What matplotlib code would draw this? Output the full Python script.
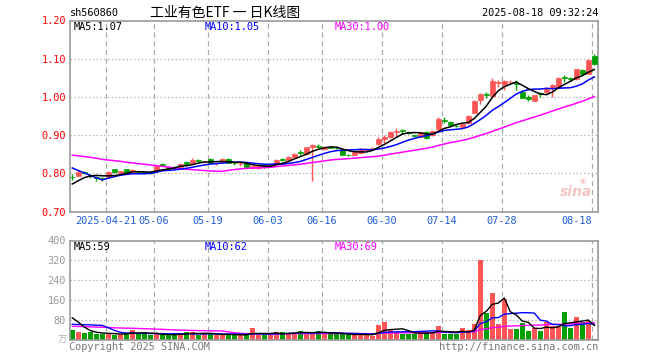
import numpy as np
import pandas as pd
import matplotlib
matplotlib.use("Agg")
import matplotlib.pyplot as plt

# ---- data (daily K, 88 sessions 04-11 .. 08-18) ----
opens = [0.791, 0.794, 0.803, 0.796, 0.789, 0.788, 0.790, 0.810, 0.800, 0.810,
         0.802, 0.804, 0.803, 0.802, 0.807, 0.823, 0.816, 0.816, 0.817, 0.829,
         0.826, 0.836, 0.829, 0.838, 0.826, 0.829, 0.838, 0.827, 0.824, 0.826,
         0.814, 0.814, 0.822, 0.818, 0.824, 0.837, 0.836, 0.842, 0.855, 0.850,
         0.868, 0.870, 0.864, 0.868, 0.866, 0.862, 0.849, 0.849, 0.854, 0.860,
         0.866, 0.876, 0.890, 0.895, 0.908, 0.913, 0.909, 0.899, 0.896, 0.909,
         0.899, 0.916, 0.939, 0.935, 0.925, 0.922, 0.931, 0.959, 0.992, 1.007,
         1.002, 1.037, 1.031, 1.039, 1.036, 1.013, 1.000, 0.990, 1.010, 1.012,
         1.025, 1.025, 1.051, 1.049, 1.046, 1.070, 1.061, 1.106]
highs = [0.798, 0.808, 0.806, 0.799, 0.792, 0.790, 0.806, 0.812, 0.807, 0.811,
         0.812, 0.806, 0.804, 0.803, 0.820, 0.827, 0.818, 0.818, 0.827, 0.831,
         0.839, 0.838, 0.833, 0.840, 0.830, 0.840, 0.839, 0.829, 0.831, 0.828,
         0.820, 0.819, 0.824, 0.826, 0.838, 0.841, 0.845, 0.854, 0.860, 0.870,
         0.876, 0.876, 0.872, 0.870, 0.868, 0.863, 0.851, 0.857, 0.866, 0.866,
         0.870, 0.895, 0.899, 0.911, 0.918, 0.917, 0.911, 0.901, 0.909, 0.911,
         0.913, 0.948, 0.948, 0.937, 0.928, 0.931, 0.952, 0.993, 1.010, 1.013,
         1.050, 1.044, 1.045, 1.044, 1.044, 1.018, 1.005, 1.006, 1.013, 1.026,
         1.034, 1.052, 1.057, 1.052, 1.074, 1.073, 1.099, 1.112]
lows = [0.783, 0.792, 0.797, 0.788, 0.780, 0.779, 0.788, 0.801, 0.798, 0.800,
        0.800, 0.801, 0.799, 0.798, 0.806, 0.818, 0.811, 0.813, 0.816, 0.822,
        0.825, 0.830, 0.826, 0.825, 0.823, 0.828, 0.826, 0.823, 0.818, 0.814,
        0.812, 0.812, 0.814, 0.816, 0.822, 0.832, 0.834, 0.840, 0.848, 0.848,
        0.779, 0.865, 0.862, 0.865, 0.863, 0.847, 0.845, 0.847, 0.852, 0.858,
        0.861, 0.875, 0.880, 0.893, 0.896, 0.903, 0.903, 0.895, 0.894, 0.889,
        0.897, 0.914, 0.931, 0.925, 0.920, 0.919, 0.929, 0.957, 0.981, 0.998,
        1.000, 1.025, 1.018, 1.035, 1.018, 0.996, 0.989, 0.988, 1.000, 1.010,
        1.000, 1.022, 1.040, 1.042, 1.044, 1.057, 1.059, 1.083]
closes = [0.790, 0.803, 0.800, 0.792, 0.788, 0.784, 0.803, 0.803, 0.805, 0.802,
          0.808, 0.803, 0.801, 0.801, 0.818, 0.822, 0.813, 0.815, 0.825, 0.824,
          0.836, 0.833, 0.830, 0.827, 0.827, 0.838, 0.827, 0.826, 0.825, 0.816,
          0.818, 0.818, 0.816, 0.824, 0.836, 0.836, 0.842, 0.850, 0.854, 0.868,
          0.873, 0.869, 0.869, 0.867, 0.865, 0.848, 0.848, 0.855, 0.864, 0.864,
          0.867, 0.889, 0.894, 0.909, 0.910, 0.911, 0.905, 0.898, 0.907, 0.892,
          0.911, 0.941, 0.937, 0.927, 0.923, 0.928, 0.950, 0.990, 1.007, 1.005,
          1.041, 1.038, 1.042, 1.040, 1.034, 0.998, 0.994, 1.005, 1.008, 1.024,
          1.032, 1.050, 1.049, 1.047, 1.072, 1.059, 1.096, 1.085]
volumes = [41, 31, 27, 33, 25, 25, 25, 20, 25, 28, 41, 25, 25, 19, 25, 21, 21, 21,
           25, 33, 33, 19, 25, 25, 21, 21, 21, 21, 21, 21, 47, 21, 21, 21, 31, 31,
           28, 28, 35, 28, 28, 35, 28, 23, 23, 23, 19, 23, 23, 23, 17, 59, 71, 39,
           31, 25, 25, 25, 31, 31, 31, 55, 25, 23, 25, 47, 39, 63, 320, 108, 188,
           63, 165, 43, 43, 67, 36, 49, 35, 71, 55, 55, 114, 49, 91, 71, 76, 6]

# sessions before the window, only needed so the moving averages start right
pre_close = [0.85, 0.86, 0.85, 0.86, 0.87, 0.86, 0.85, 0.86, 0.87, 0.86,
             0.86, 0.85, 0.86, 0.87, 0.88, 0.87, 0.88, 0.87, 0.88, 0.87,
             0.87, 0.86, 0.86, 0.85, 0.84, 0.76, 0.76, 0.77, 0.78]
pre_vol = [48, 52, 55, 50, 46, 53, 58, 49, 47, 51, 54, 50, 46, 52, 49, 53, 55, 48,
           50, 52, 38, 36, 40, 35, 36, 116, 127, 103, 58]

tick_idx = [6, 14, 23, 33, 42, 52, 62, 72, 87]
tick_labels = ["2025-04-21", "05-06", "05-19", "06-03", "06-16", "06-30",
               "07-14", "07-28", "08-18"]
price_ticks = [0.70, 0.80, 0.90, 1.00, 1.10, 1.20]
vol_ticks = [80, 160, 240, 320, 400]

RED, GREEN = "#ff5555", "#00a000"
MONO = "DejaVu Sans Mono"
W, H = 660, 360

n = len(closes)
x = np.arange(n)
o, h, l, c = map(np.array, (opens, highs, lows, closes))
up = c >= o
cols = np.where(up, RED, GREEN)

full_c = pd.Series(pre_close + closes)
full_v = pd.Series(pre_vol + volumes)
ma = {k: full_c.rolling(k).mean().values[-n:] for k in (5, 10, 30)}
vma = {k: full_v.rolling(k).mean().values[-n:] for k in (5, 10, 30)}
ma_cols = {5: "black", 10: "#0000ff", 30: "#ff00ff"}

fig = plt.figure(figsize=(6.6, 3.6), dpi=100)


def rect(left, top, right, bottom):
    return [left / W, 1 - bottom / H, (right - left) / W, (bottom - top) / H]


ax = fig.add_axes(rect(70, 20.5, 597.5, 211.5))
axv = fig.add_axes(rect(70, 240.5, 597.5, 340))
xl = (-0.38, 87.53)
grid_x = [t - 0.38 for t in tick_idx]

for a in (ax, axv):
    a.set_xlim(*xl)
    for s in a.spines.values():
        s.set_color("#999999")
        s.set_linewidth(1.2)
    for gx in grid_x:
        a.axvline(gx, color="#aaaaaa", lw=0.9, ls=(0, (4, 3)), zorder=0)
    a.tick_params(length=0)

# price panel
ax.set_ylim(0.70, 1.20)
for p in price_ticks[1:-1]:
    ax.axhline(p, color="#aaaaaa", lw=0.9, ls=(0, (1, 2)), zorder=0)
ax.vlines(x, l, h, colors=cols, lw=1, zorder=2)
body = np.abs(c - o)
ax.bar(x, np.maximum(body, 0.0012), bottom=np.minimum(o, c), width=0.75,
       color=cols, edgecolor=cols, lw=0.5, zorder=3)
for k in (30, 10, 5):
    ax.plot(x, ma[k], color=ma_cols[k], lw=1.1, zorder=4)

ax.set_yticks(price_ticks)
ax.set_yticklabels([f"{p:.2f}" for p in price_ticks], family=MONO,
                   fontsize=7.4, color="red")
ax.set_xticks(grid_x)
ax.set_xticklabels(tick_labels, family=MONO, fontsize=7.4, color="#1f5fd6")
ax.tick_params(axis="x", pad=3.5)
ax.tick_params(axis="y", pad=3)
ax.get_xticklabels()[-1].set_horizontalalignment("right")

tr = ax.get_xaxis_transform()
ax.text(0.3, 0.99, f"MA5:{ma[5][-1]:.2f}", transform=tr,
        family=MONO, fontsize=7.4, color="black", va="top")
ax.text(22.0, 0.99, f"MA10:{ma[10][-1]:.2f}", transform=tr,
        family=MONO, fontsize=7.4, color="#0000ff", va="top")
ax.text(43.8, 0.99, f"MA30:{ma[30][-1]:.2f}", transform=tr,
        family=MONO, fontsize=7.4, color="#ff00ff", va="top")
# faint sina watermark
ax.text(84.0, 0.750, "sina", fontsize=10, color="#f4c4c4", style="italic",
        fontweight="bold", ha="center", va="center", zorder=1)
ax.text(85.0, 0.779, "◉", fontsize=5, color="#f4c4c4", ha="center",
        va="center", zorder=1)

# volume panel
axv.set_ylim(0, 400)
for v in vol_ticks[:-1]:
    axv.axhline(v, color="#aaaaaa", lw=0.9, ls=(0, (1, 2)), zorder=0)
axv.bar(x, volumes, width=0.78, color=cols, lw=0, zorder=2)
for k in (30, 10, 5):
    axv.plot(x, vma[k], color=ma_cols[k], lw=1.0, zorder=3)
axv.set_yticks(vol_ticks)
axv.set_yticklabels([str(v) for v in vol_ticks], family=MONO, fontsize=7.4,
                    color="#999999")
axv.set_xticks([])
axv.tick_params(axis="y", pad=3)

trv = axv.get_xaxis_transform()
axv.text(0.3, 0.985, f"MA5:{round(vma[5][-1])}", transform=trv,
         family=MONO, fontsize=7.4, color="black", va="top")
axv.text(22.0, 0.985, f"MA10:{round(vma[10][-1])}", transform=trv,
         family=MONO, fontsize=7.4, color="#0000ff", va="top")
axv.text(43.8, 0.985, f"MA30:{round(vma[30][-1])}", transform=trv,
         family=MONO, fontsize=7.4, color="#ff00ff", va="top")

# header / footer text
fig.text(70 / W, 1 - 13 / H, "sh560860", family=MONO, fontsize=7.4, va="center")
fig.text(150 / W, 1 - 13 / H, "工业有色ETF 一 日K线图", fontsize=10,
         family=["Noto Sans CJK SC", "DejaVu Sans"], va="center")
fig.text(598 / W, 1 - 13 / H, "2025-08-18 09:32:24", family=MONO, fontsize=7.4,
         va="center", ha="right")
fig.text(67 / W, 1 - 340 / H, "万", family=["Noto Sans CJK SC", "DejaVu Sans"],
         fontsize=6.5, color="#aaaaaa", va="center", ha="right")
fig.text(69 / W, 1 - 347 / H, "Copyright 2025 SINA.COM", family=MONO, fontsize=7.4,
         color="#777777", va="center")
fig.text(598 / W, 1 - 347 / H, "http://finance.sina.com.cn", family=MONO,
         fontsize=7.4, color="#777777", va="center", ha="right")

fig.savefig("out.png", dpi=100)
